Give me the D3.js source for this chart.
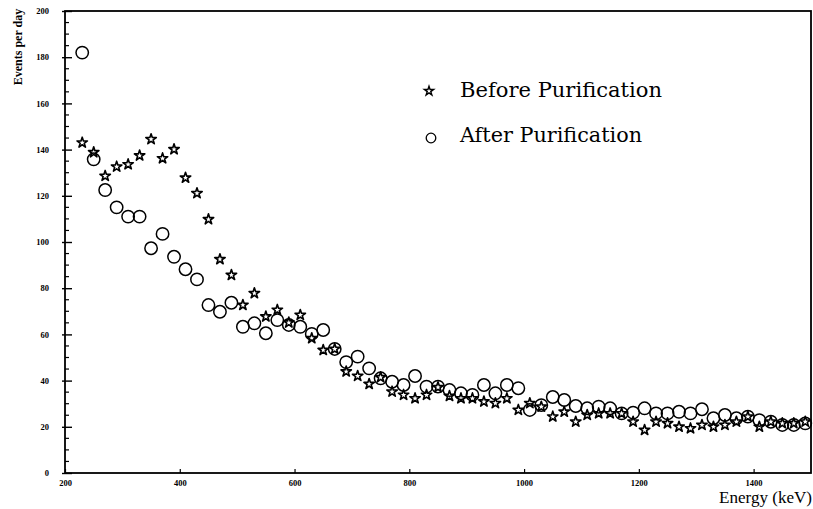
<!DOCTYPE html>
<html>
<head>
<meta charset="utf-8">
<script src="https://cdn.jsdelivr.net/npm/d3@7"></script>
<style>
  html, body { margin: 0; padding: 0; background: #fff; }
  svg { display: block; }
  text { font-family: "Liberation Serif", "DejaVu Serif", serif; fill: #000; }
</style>
</head>
<body>
<svg id="chart" width="813" height="509"></svg>
<script>
// Energy bin centres (keV), 20 keV wide bins
const energies = [
  230, 250, 270, 290, 310, 330, 350, 370, 390, 410,
  430, 450, 470, 490, 510, 530, 550, 570, 590, 610,
  630, 650, 670, 690, 710, 730, 750, 770, 790, 810,
  830, 850, 870, 890, 910, 930, 950, 970, 990, 1010,
  1030, 1050, 1070, 1090, 1110, 1130, 1150, 1170, 1190, 1210,
  1230, 1250, 1270, 1290, 1310, 1330, 1350, 1370, 1390, 1410,
  1430, 1450, 1470, 1490
];

// Event rate before purification (events per day)
const beforePurification = [
  143.0, 138.8, 128.6, 132.6, 133.6, 137.4, 144.5, 136.2, 140.1, 127.8,
  121.1, 109.8, 92.5, 85.7, 72.7, 77.8, 67.7, 70.6, 65.1, 68.4,
  58.3, 53.2, 53.7, 43.9, 42.0, 38.5, 41.4, 35.2, 33.8, 32.3,
  33.8, 37.1, 33.3, 32.3, 32.3, 30.9, 30.2, 32.3, 27.3, 30.2,
  28.7, 24.4, 26.5, 22.2, 25.1, 25.8, 25.8, 25.8, 22.2, 18.6,
  22.2, 21.5, 20.0, 19.3, 20.8, 20.0, 20.8, 22.2, 24.4, 20.0,
  22.2, 21.5, 21.5, 22.2
];

// Event rate after purification (events per day)
const afterPurification = [
  182.0, 135.8, 122.5, 115.0, 111.0, 111.0, 97.3, 103.5, 93.6, 88.2,
  83.8, 72.7, 69.8, 73.7, 63.3, 64.8, 60.5, 66.2, 64.1, 63.3,
  60.2, 61.9, 53.7, 48.0, 50.4, 45.3, 41.0, 39.5, 38.1, 42.0,
  37.4, 37.4, 35.9, 34.5, 33.8, 38.1, 34.5, 38.1, 36.7, 27.3,
  29.4, 32.9, 31.6, 29.0, 28.0, 28.7, 28.0, 25.8, 26.1, 28.0,
  25.8, 25.8, 26.5, 25.8, 27.6, 23.7, 25.1, 23.7, 24.4, 22.9,
  22.2, 20.8, 20.8, 21.5
];

const xTicks = [200, 400, 600, 800, 1000, 1200, 1400];
const yTicks = [0, 20, 40, 60, 80, 100, 120, 140, 160, 180, 200];
const seriesNames = ["Before Purification", "After Purification"];

const svg = d3.select("#chart");
const plotLeft = 65, plotRight = 811, plotTop = 11, plotBottom = 473;

const x = d3.scaleLinear().domain([200, 1500]).range([plotLeft, plotRight]);
const y = d3.scaleLinear().domain([0, 200]).range([plotBottom, plotTop]);

// Y axis: major ticks crossing the frame, minor ticks every 5 units
const yAxis = d3.axisLeft(y).tickValues(yTicks).tickSize(0).tickPadding(0).tickFormat(d3.format("d"));
const gy = svg.append("g").attr("transform", `translate(${plotLeft},0)`).call(yAxis);
gy.select(".domain").remove();
gy.selectAll(".tick text")
  .attr("x", -16).attr("text-anchor", "end").attr("dy", "0.32em")
  .style("font-size", "8.5px").style("font-weight", "bold")
  .style("font-family", "'Liberation Serif', serif");
gy.selectAll(".tick").append("line")
  .attr("x1", -3).attr("x2", 7).attr("stroke", "#000").attr("stroke-width", 1.4);

const minorY = d3.range(0, 201, 5).filter(v => v % 20 !== 0);
svg.append("g").selectAll("line").data(minorY).join("line")
  .attr("x1", plotLeft).attr("x2", plotLeft + 4)
  .attr("y1", d => y(d)).attr("y2", d => y(d))
  .attr("stroke", "#000").attr("stroke-width", 1.2);

// X axis labels and small inward ticks
const xAxis = d3.axisBottom(x).tickValues(xTicks).tickSize(0).tickPadding(0).tickFormat(d3.format("d"));
const gx = svg.append("g").attr("transform", `translate(0,${plotBottom})`).call(xAxis);
gx.select(".domain").remove();
gx.selectAll(".tick text")
  .attr("y", 7).attr("dy", "0.71em")
  .style("font-size", "8.5px").style("font-weight", "bold")
  .style("font-family", "'Liberation Serif', serif");
gx.selectAll(".tick").append("line")
  .attr("y1", 0).attr("y2", -4).attr("stroke", "#000").attr("stroke-width", 1.2);

// Frame
svg.append("rect")
  .attr("x", plotLeft).attr("y", plotTop)
  .attr("width", plotRight - plotLeft).attr("height", plotBottom - plotTop)
  .attr("fill", "none").attr("stroke", "#000").attr("stroke-width", 1.8);

// Data markers
const star = d3.symbol().type(d3.symbolStar).size(34);
const beforeData = energies.map((e, i) => ({ e, v: beforePurification[i] }));
const afterData = energies.map((e, i) => ({ e, v: afterPurification[i] }));

svg.append("g").selectAll("circle").data(afterData).join("circle")
  .attr("cx", d => x(d.e)).attr("cy", d => y(d.v)).attr("r", 6.2)
  .attr("fill", "none").attr("stroke", "#000").attr("stroke-width", 1.5);

svg.append("g").selectAll("path").data(beforeData).join("path")
  .attr("d", star)
  .attr("transform", d => `translate(${x(d.e)},${y(d.v)})`)
  .attr("fill", "none").attr("stroke", "#000").attr("stroke-width", 1.6)
  .attr("stroke-linejoin", "round");

// Legend
const legend = svg.append("g");
legend.append("path")
  .attr("d", d3.symbol().type(d3.symbolStar).size(26)())
  .attr("transform", "translate(429,91)")
  .attr("fill", "none").attr("stroke", "#000").attr("stroke-width", 1.4);
legend.append("circle")
  .attr("cx", 431).attr("cy", 138).attr("r", 4.8)
  .attr("fill", "none").attr("stroke", "#000").attr("stroke-width", 1.3);
const legendWidths = [202, 182];
legend.selectAll("text").data(seriesNames).join("text")
  .attr("x", 460).attr("y", (d, i) => 97 + i * 45)
  .attr("textLength", (d, i) => legendWidths[i])
  .attr("lengthAdjust", "spacingAndGlyphs")
  .style("font-family", "'DejaVu Serif', serif")
  .style("font-size", "20px")
  .text(d => d);

// Axis titles
svg.append("text")
  .attr("transform", "translate(22,47) rotate(-90)")
  .attr("text-anchor", "middle")
  .style("font-size", "12px")
  .style("font-weight", "bold")
  .text("Events per day");

svg.append("text")
  .attr("x", 812).attr("y", 503)
  .attr("text-anchor", "end")
  .attr("textLength", 93)
  .attr("lengthAdjust", "spacingAndGlyphs")
  .style("font-size", "16px")
  .text("Energy (keV)");
</script>
</body>
</html>
